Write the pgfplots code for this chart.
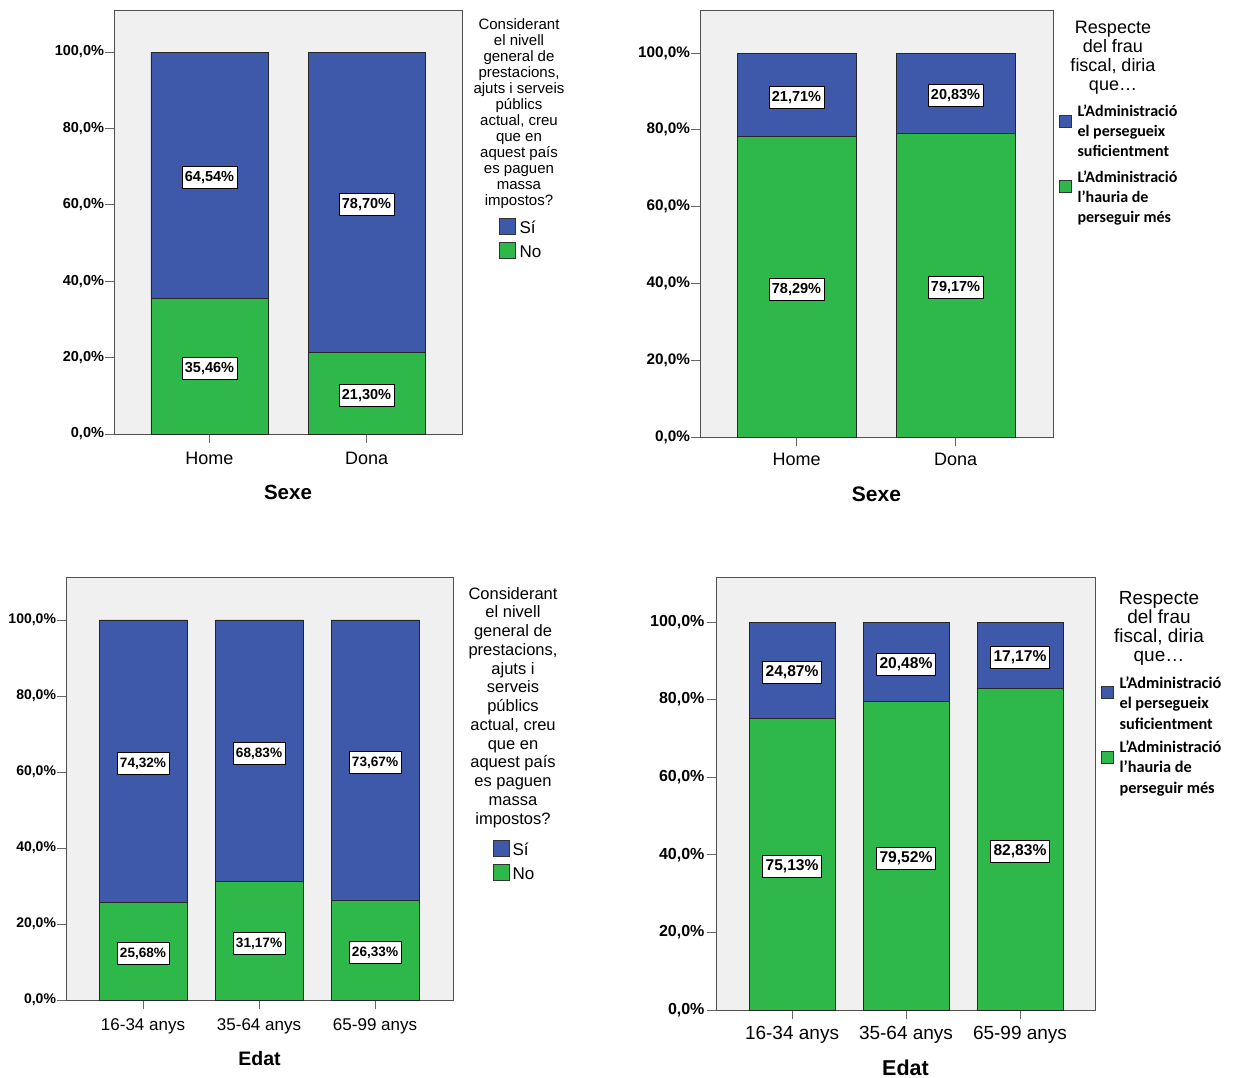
\documentclass[border=0pt]{standalone}
\usepackage{pgfplots}
\pgfplotsset{compat=1.18}
\usepackage{fontspec}
\setmainfont{Liberation Sans}
\newfontfamily\carlito{Carlito}
\definecolor{sblue}{RGB}{62,88,170}
\definecolor{sgreen}{RGB}{46,184,74}
\definecolor{bggray}{RGB}{240,240,240}
\definecolor{framegray}{RGB}{80,80,80}
\newcommand{\fs}[2]{\fontsize{#1}{#2}\selectfont}

\pgfplotsset{
  sqlegA/.style={legend image code/.code={\draw[##1, draw=black!80, line width=0.6pt] (0pt,-5pt) rectangle (16pt,11pt);}},
  sqlegB/.style={legend image code/.code={\draw[##1, draw=black!80, line width=0.6pt] (0pt,4.7pt) rectangle (12pt,16.7pt);}},
  spss/.style={
    scale only axis,
    ybar stacked,
    ymin=0,
    axis background/.style={fill=bggray},
    axis line style={draw=framegray, line width=0.8pt},
    ytick={0,20,40,60,80,100},
    yticklabels={{0,0\%},{20,0\%},{40,0\%},{60,0\%},{80,0\%},{100,0\%}},
    tick align=outside,
    tick pos=left,
    major tick length=9pt,
    tick style={draw=black!60, line width=0.8pt},
    nodes near coords={\seglab\%},
    visualization depends on={value \thisrow{lab} \as \seglab},
    every node near coord/.append style={anchor=center, yshift=-2.5pt,
      fill=white, draw=black, line width=0.7pt, inner xsep=3pt, inner ysep=4.5pt,
      text height=10.5pt, text depth=2.5pt, font=\bfseries\fs{14.5}{16}},
    reverse legend,
  },
  legA/.style={legend style={draw=none, fill=none, inner sep=0pt, outer sep=0pt,
      column sep=4pt, row sep=4pt, font=\fs{17}{20},
      nodes={inner sep=0pt, text height=13pt, text depth=4pt}},
    legend cell align=left,
    every axis plot post/.append style={sqlegA}},
  legB/.style={legend style={draw=none, fill=none, inner sep=0pt, outer sep=0pt,
      column sep=6pt, row sep=12pt, font=\carlito\bfseries\fs{16}{20},
      nodes={inner sep=0pt, align=left}},
    legend cell align=left,
    every axis plot post/.append style={sqlegB}},
}

\begin{document}
\begin{tikzpicture}
\useasboundingbox (0pt,0pt) rectangle (1243pt,-1078pt);

% ---------------- Panel 1 ----------------
\begin{axis}[spss, legA,
  at={(114pt,-434pt)}, anchor=south west, width=348pt, height=424pt,
  xmin=-0.608, xmax=1.608, ymax=111.0, bar width=117pt,
  xtick={0,1}, xticklabels={Home,Dona},
  xticklabel style={anchor=base, yshift=-21.4pt, font=\fs{18}{20}},
  yticklabel style={xshift=2.5pt, font=\bfseries\fs{14.5}{16}},
  xlabel={Sexe},
  xlabel style={at={(axis description cs:0.5,0)}, anchor=base, yshift=-65.3pt, font=\bfseries\fs{20.5}{24}},
  legend style={at={(1.1063,0.5094)}, anchor=north west},
]
\addplot[fill=sgreen, draw=black!85, line width=0.8pt] table {
x y lab
0 35.46 35,46
1 21.30 21,30
};
\addplot[fill=sblue, draw=black!85, line width=0.8pt] table {
x y lab
0 64.54 64,54
1 78.70 78,70
};
\legend{No,Sí}
\end{axis}
\node[anchor=north, align=center, font=\fs{15}{16}, inner sep=0pt] at (519pt,-18.4pt)
  {Considerant\\el nivell\\general de\\prestacions,\\ajuts i serveis\\públics\\actual, creu\\que en\\aquest país\\es paguen\\massa\\impostos?};

% ---------------- Panel 2 ----------------
\begin{axis}[spss, legB,
  at={(700pt,-437pt)}, anchor=south west, width=353pt, height=427pt,
  xmin=-0.607, xmax=1.613, ymax=111.2, bar width=119pt,
  xtick={0,1}, xticklabels={Home,Dona},
  xticklabel style={anchor=base, yshift=-19.4pt, font=\fs{18}{20}},
  yticklabel style={xshift=2.5pt, font=\bfseries\fs{15.3}{17}},
  xlabel={Sexe},
  xlabel style={at={(axis description cs:0.5,0)}, anchor=base, yshift=-64.5pt, font=\bfseries\fs{21}{24}},
  legend style={at={(1.017,0.777)}, anchor=north west},
]
\addplot[fill=sgreen, draw=black!85, line width=0.8pt] table {
x y lab
0 78.29 78,29
1 79.17 79,17
};
\addplot[fill=sblue, draw=black!85, line width=0.8pt] table {
x y lab
0 21.71 21,71
1 20.83 20,83
};
\legend{{L’Administració\\l’hauria de\\perseguir més},{L’Administració\\el persegueix\\suficientment}}
\end{axis}
\node[anchor=north, align=center, font=\fs{18}{19}, inner sep=0pt] at (1113pt,-20.5pt)
  {Respecte\\del frau\\fiscal, diria\\que…};

% ---------------- Panel 3 ----------------
\begin{axis}[spss, legA,
  at={(66pt,-1000pt)}, anchor=south west, width=387pt, height=423pt,
  xmin=-0.664, xmax=2.672, ymax=111.3, bar width=88pt,
  xtick={0,1,2}, xticklabels={16-34 anys,35-64 anys,65-99 anys},
  xticklabel style={anchor=base, yshift=-21.1pt, font=\fs{17}{20}},
  yticklabel style={xshift=2.5pt, font=\bfseries\fs{14}{16}},
  every node near coord/.append style={font=\bfseries\fs{13.6}{16}},
  xlabel={Edat},
  xlabel style={at={(axis description cs:0.5,0)}, anchor=base, yshift=-65pt, font=\bfseries\fs{19.5}{24}},
  legend style={at={(1.1034,0.3783)}, anchor=north west, column sep=3pt},
]
\addplot[fill=sgreen, draw=black!85, line width=0.8pt] table {
x y lab
0 25.68 25,68
1 31.17 31,17
2 26.33 26,33
};
\addplot[fill=sblue, draw=black!85, line width=0.8pt] table {
x y lab
0 74.32 74,32
1 68.83 68,83
2 73.67 73,67
};
\legend{No,Sí}
\end{axis}
\node[anchor=north, align=center, font=\fs{16.5}{18.75}, inner sep=0pt] at (513pt,-586.9pt)
  {Considerant\\el nivell\\general de\\prestacions,\\ajuts i\\serveis\\públics\\actual, creu\\que en\\aquest país\\es paguen\\massa\\impostos?};

% ---------------- Panel 4 ----------------
\begin{axis}[spss, legB,
  at={(716pt,-1010pt)}, anchor=south west, width=379pt, height=433pt,
  xmin=-0.667, xmax=2.658, ymax=111.6, bar width=86pt,
  xtick={0,1,2}, xticklabels={16-34 anys,35-64 anys,65-99 anys},
  xticklabel style={anchor=base, yshift=-20.8pt, font=\fs{19}{22}},
  yticklabel style={xshift=1pt, font=\bfseries\fs{16}{18}},
  every node near coord/.append style={font=\bfseries\fs{15.6}{17}},
  xlabel={Edat},
  xlabel style={at={(axis description cs:0.5,0)}, anchor=base, yshift=-65.8pt, font=\bfseries\fs{21.5}{24}},
  legend style={at={(1.0158,0.7709)}, anchor=north west, row sep=10pt, font=\carlito\bfseries\fs{16.3}{20.5}},
]
\addplot[fill=sgreen, draw=black!85, line width=0.8pt] table {
x y lab
0 75.13 75,13
1 79.52 79,52
2 82.83 82,83
};
\addplot[fill=sblue, draw=black!85, line width=0.8pt] table {
x y lab
0 24.87 24,87
1 20.48 20,48
2 17.17 17,17
};
\legend{{L’Administració\\l’hauria de\\perseguir més},{L’Administració\\el persegueix\\suficientment}}
\end{axis}
\node[anchor=north, align=center, font=\fs{19}{19}, inner sep=0pt] at (1159pt,-591.2pt)
  {Respecte\\del frau\\fiscal, diria\\que…};

\end{tikzpicture}
\end{document}
